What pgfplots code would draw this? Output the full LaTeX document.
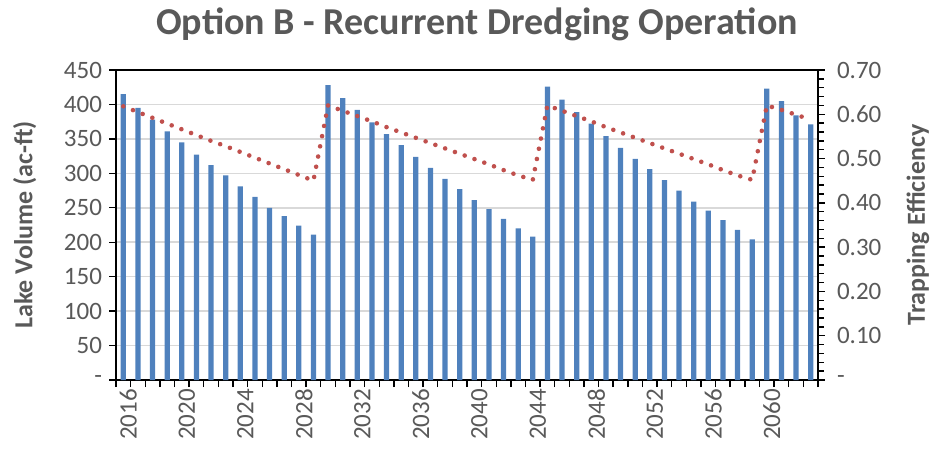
\documentclass[border=0pt]{standalone}
\usepackage{fontspec}
\setmainfont{Carlito}
\usepackage{pgfplots}
\pgfplotsset{compat=1.18}
\definecolor{barblue}{HTML}{4F81BD}
\definecolor{tered}{HTML}{C0504D}
\definecolor{txtgray}{HTML}{595959}
\definecolor{gridgray}{HTML}{D9D9D9}

\pgfplotsset{
  chartbase/.style={
    scale only axis, width=351bp, height=155bp,
    xmin=2015.5, xmax=2063.5,
    tick align=outside,
    major tick length=3.5bp, minor tick length=3bp,
    tick style={black, line width=0.7bp},
    axis line style={black, line width=0.8bp},
    tick label style={font=\fontsize{12.5bp}{14bp}\selectfont, text=txtgray},
  },
}

\begin{document}
\begin{tikzpicture}
\path[use as bounding box] (-58bp,-35.5bp) rectangle (410.5bp,190bp);

% lake volume (bars, left axis)
\begin{axis}[
  chartbase,
  ybar, bar width=0.36,
  ymin=0, ymax=450,
  ytick={0,50,100,150,200,250,300,350,400,450},
  yticklabels={-,50,100,150,200,250,300,350,400,450},
  ytick pos=left, xtick pos=bottom,
  ymajorgrids, grid style={gridgray, line width=0.8bp},
  xtick={2015.5,2016.5,...,2063.5}, xticklabels={},
  extra x ticks={2016,2020,2024,2028,2032,2036,2040,2044,2048,2052,2056,2060},
  extra x tick labels={2016,2020,2024,2028,2032,2036,2040,2044,2048,2052,2056,2060},
  extra x tick style={major tick length=0pt, xticklabel style={rotate=90, anchor=east, yshift=-2.5bp, xshift=-1bp}},
  ylabel={Lake Volume (ac-ft)},
  every axis y label/.style={at={(axis description cs:-0.13,0.5)}, rotate=90, anchor=center,
    font=\fontsize{13bp}{15bp}\selectfont\bfseries, text=txtgray},
  title={Option B - Recurrent Dredging Operation},
  title style={font=\fontsize{19bp}{21bp}\selectfont\bfseries, text=txtgray, xshift=5bp, yshift=5bp},
]
\addplot[fill=barblue, draw=none] coordinates {
  (2016,415) (2017,395) (2018,378) (2019,361) (2020,345) (2021,327) (2022,312)
  (2023,297) (2024,281) (2025,266) (2026,250) (2027,238) (2028,224) (2029,211)
  (2030,428) (2031,409) (2032,392) (2033,374) (2034,357) (2035,341) (2036,324)
  (2037,308) (2038,292) (2039,277) (2040,261) (2041,248) (2042,234) (2043,220) (2044,208)
  (2045,426) (2046,407) (2047,389) (2048,372) (2049,354) (2050,337) (2051,321)
  (2052,306) (2053,290) (2054,275) (2055,259) (2056,246) (2057,232) (2058,218) (2059,204)
  (2060,423) (2061,405) (2062,384) (2063,371)
};
\end{axis}

% trapping efficiency (dotted line, right axis)
\begin{axis}[
  chartbase,
  axis x line=none, axis y line*=right,
  ymin=0, ymax=0.7,
  ytick={0,0.1,0.2,0.3,0.4,0.5,0.6,0.7},
  yticklabels={-,0.10,0.20,0.30,0.40,0.50,0.60,0.70},
  yticklabel style={xshift=2.5bp},
  minor y tick num=4,
  ylabel={Trapping Efficiency},
  every axis y label/.style={at={(axis description cs:1.1425,0.5)}, rotate=90, anchor=center,
    font=\fontsize{13bp}{15bp}\selectfont\bfseries, text=txtgray},
]
\addplot[tered, line width=2.3bp, dash pattern=on 0pt off 5.2bp, line cap=round] coordinates {
  (2016,0.618) (2017,0.605) (2018,0.592) (2019,0.579) (2020,0.566) (2021,0.553) (2022,0.540)
  (2023,0.528) (2024,0.515) (2025,0.502) (2026,0.489) (2027,0.476) (2028,0.463) (2029,0.450)
  (2030,0.620) (2031,0.608) (2032,0.596) (2033,0.584) (2034,0.571) (2035,0.559) (2036,0.547)
  (2037,0.535) (2038,0.523) (2039,0.511) (2040,0.499) (2041,0.487) (2042,0.474) (2043,0.462) (2044,0.452)
  (2045,0.620) (2046,0.608) (2047,0.596) (2048,0.584) (2049,0.571) (2050,0.559) (2051,0.547)
  (2052,0.535) (2053,0.523) (2054,0.511) (2055,0.499) (2056,0.487) (2057,0.474) (2058,0.462) (2059,0.452)
  (2060,0.620) (2061,0.610) (2062,0.599) (2063,0.588)
};
\end{axis}
\end{tikzpicture}
\end{document}
